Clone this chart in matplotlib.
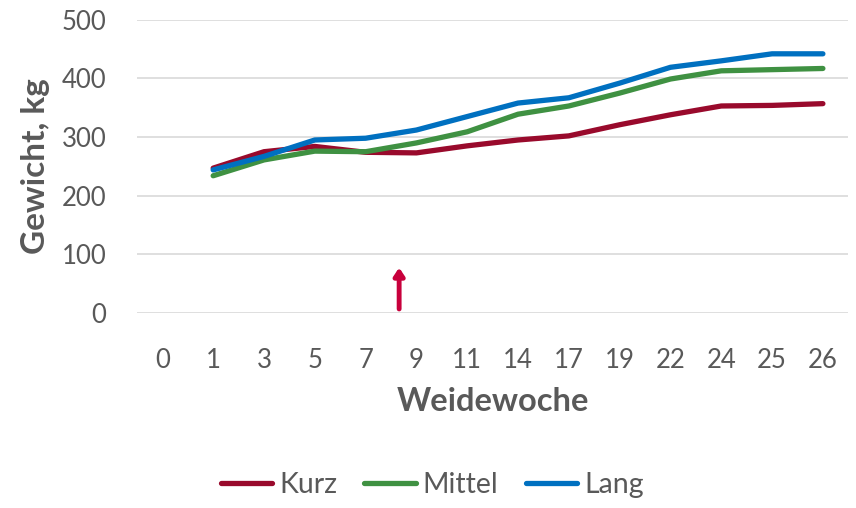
import matplotlib.pyplot as plt

weeks = ['0', '1', '3', '5', '7', '9', '11', '14', '17', '19', '22', '24', '25', '26']
kurz = [None, 247, 275, 284, 274, 273, 285, 295, 302, 321, 338, 353, 354, 357]
mittel = [None, 234, 261, 276, 275, 290, 309, 339, 353, 375, 399, 413, 415, 417]
lang = [None, 244, 267, 295, 298, 312, 335, 358, 367, 392, 419, 430, 442, 442]
arrow_x = 4.66
arrow_top = 82

plt.rcParams['font.family'] = ['Lato', 'DejaVu Sans']
grey = '#595959'

fig = plt.figure(figsize=(8.56, 5.08), dpi=100)
ax = fig.add_axes([0.16, 0.384, 0.831, 0.577])

x = list(range(len(weeks)))
def pts(vals):
    xs = [i for i, v in zip(x, vals) if v is not None]
    ys = [v for v in vals if v is not None]
    return xs, ys

for vals, col, name in [(kurz, '#990A2C', 'Kurz'), (mittel, '#3F9142', 'Mittel'), (lang, '#0070C0', 'Lang')]:
    xs, ys = pts(vals)
    ax.plot(xs, ys, color=col, lw=3.8, solid_capstyle='round', label=name)

ax.annotate('', xy=(arrow_x, arrow_top), xytext=(arrow_x, 2),
            arrowprops=dict(arrowstyle='-|>,head_width=0.3,head_length=0.45', color='#C8003C', lw=3.5))

ax.set_xlim(-0.5, len(weeks) - 0.5)
ax.set_ylim(0, 500)
ax.set_yticks(range(0, 501, 100))
ax.set_xticks(x)
ax.set_xticklabels(weeks)
ax.grid(axis='y', color='#D9D9D9', lw=1.2)
ax.set_axisbelow(True)
for s in ax.spines.values():
    s.set_visible(False)
ax.tick_params(length=0, labelsize=18.5, labelcolor=grey)
ax.tick_params(axis='x', pad=25)
ax.tick_params(axis='y', pad=22)
ax.set_xlabel('Weidewoche', fontsize=23.5, fontweight='bold', color=grey, labelpad=10)
ax.set_ylabel('Gewicht, kg', fontsize=24, fontweight='bold', color=grey)
ax.yaxis.set_label_coords(-0.122, 0.5)

h, l = ax.get_legend_handles_labels()
fig.legend(h, l, loc='center', bbox_to_anchor=(0.505, 0.045), ncol=3, frameon=False,
           fontsize=20.5, labelcolor=grey, handlelength=1.8, handletextpad=0.25, columnspacing=0.95)

fig.savefig('out.png', dpi=100)
